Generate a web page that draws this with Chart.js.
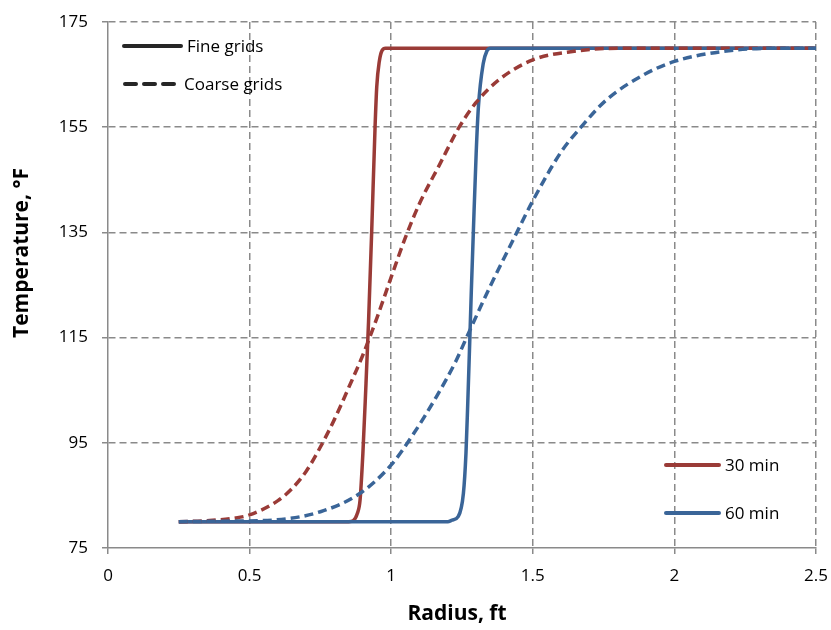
<!DOCTYPE html>
<html>
<head>
<meta charset="utf-8">
<title>Temperature vs radius</title>
<script src="https://cdn.jsdelivr.net/npm/chart.js@4.4.1/dist/chart.umd.min.js"></script>
<style>
  html, body { margin: 0; padding: 0; background: #fff; }
  #wrap { width: 831px; height: 630px; position: relative; }
</style>
</head>
<body>
<div id="wrap"><canvas id="tempChart"></canvas></div>
<script>
// Radius (ft) / temperature (°F) pairs
const fine30X = [0.25, 0.5, 0.75, 0.85, 0.866, 0.88, 0.89, 0.9, 0.91, 0.92, 0.931, 0.943, 0.949, 0.958, 0.968, 0.98, 1.0, 1.5, 2.0, 2.5];
const fine30Y = [80, 80, 80, 80, 80.2, 81.5, 84.1, 93, 105, 118, 135, 155, 162.7, 167.5, 169.6, 170, 170, 170, 170, 170];

const fine60X = [0.25, 0.5, 1.0, 1.2, 1.215, 1.237, 1.255, 1.264, 1.27, 1.276, 1.283, 1.29, 1.3, 1.308, 1.325, 1.338, 1.35, 1.4, 2.0, 2.5];
const fine60Y = [80, 80, 80, 80, 80.3, 81, 85.4, 93, 102, 112, 124, 135, 150, 158.9, 167.1, 169.5, 170, 170, 170, 170];

const coarse30X = [0.25, 0.35, 0.45, 0.5, 0.6, 0.65, 0.7, 0.75, 0.8, 0.85, 0.9, 0.95, 1.0, 1.05, 1.1, 1.17, 1.24, 1.3, 1.38, 1.5, 1.64, 1.8, 2.0, 2.25, 2.5];
const coarse30Y = [80, 80.2, 80.7, 81.3, 84.0, 86.3, 89.6, 94.2, 99.5, 105.5, 111.7, 118.8, 126.5, 134, 140.5, 147.8, 155, 159.7, 164, 167.8, 169.4, 170, 170, 170, 170];

const coarse60X = [0.25, 0.4, 0.58, 0.75, 0.89, 1.0, 1.08, 1.16, 1.23, 1.266, 1.35, 1.43, 1.5, 1.6, 1.67, 1.76, 1.9, 2.0, 2.17, 2.35, 2.5];
const coarse60Y = [80, 80.1, 80.3, 81.9, 85.4, 90.8, 96.8, 103.8, 110.7, 115, 124.8, 133.5, 141, 150.3, 155, 160.2, 165.2, 167.5, 169.4, 170, 170];

const xTicks = [0, 0.5, 1, 1.5, 2, 2.5];
const yTicks = [75, 95, 115, 135, 155, 175];

const RED = '#9a3b37';
const BLUE = '#3a6598';
const GRID = '#8a8a8a';
const FONT = "'Open Sans', 'Liberation Sans', sans-serif";

const pts = (xs, ys) => xs.map((x, i) => ({ x: x, y: ys[i] }));

function lineSet(label, xs, ys, color, dashed, order) {
    return {
        label: label,
        data: pts(xs, ys),
        borderColor: color,
        backgroundColor: color,
        borderWidth: 3.5,
        borderDash: dashed ? [9, 5] : [],
        borderCapStyle: 'butt',
        borderJoinStyle: 'round',
        pointRadius: 0,
        fill: false,
        cubicInterpolationMode: 'monotone',
        order: order
    };
}

// small line sample + text, used for both in-plot keys
function drawKey(ctx, x1, x2, y, color, dash, text) {
    ctx.save();
    ctx.strokeStyle = color;
    ctx.lineWidth = 4;
    ctx.lineCap = 'round';
    ctx.setLineDash(dash);
    ctx.beginPath();
    ctx.moveTo(x1, y);
    ctx.lineTo(x2, y);
    ctx.stroke();
    ctx.setLineDash([]);
    ctx.fillStyle = '#000';
    ctx.font = '17px ' + FONT;
    ctx.textBaseline = 'middle';
    ctx.textAlign = 'left';
    ctx.fillText(text, x2 + 6, y + 1);
    ctx.restore();
}

const overlay = {
    id: 'overlay',
    afterDraw(chart) {
        const ctx = chart.ctx;
        const a = chart.chartArea;

        drawKey(ctx, a.left + 16, a.left + 73, a.top + 24, '#262626', [], 'Fine grids');
        drawKey(ctx, a.left + 17, a.left + 70, a.top + 62, '#262626', [11, 8], 'Coarse grids');
        drawKey(ctx, a.right - 150, a.right - 97, a.bottom - 83, RED, [], '30 min');
        drawKey(ctx, a.right - 150, a.right - 97, a.bottom - 35, BLUE, [], '60 min');

        // axis titles
        ctx.save();
        ctx.fillStyle = '#000';
        ctx.font = 'bold 21px ' + FONT;
        ctx.textAlign = 'center';
        ctx.textBaseline = 'middle';
        ctx.fillText('Radius, ft', 457, 614);
        ctx.translate(22, 253);
        ctx.rotate(-Math.PI / 2);
        ctx.fillText('Temperature, °F', 0, 0);
        ctx.restore();
    }
};

new Chart(document.getElementById('tempChart'), {
    type: 'line',
    data: {
        datasets: [
            lineSet('30 min, coarse', coarse30X, coarse30Y, RED, true, 2),
            lineSet('60 min, coarse', coarse60X, coarse60Y, BLUE, true, 1),
            lineSet('30 min, fine', fine30X, fine30Y, RED, false, 4),
            lineSet('60 min, fine', fine60X, fine60Y, BLUE, false, 3)
        ]
    },
    options: {
        responsive: true,
        maintainAspectRatio: false,
        animation: false,
        layout: { padding: { top: 22, right: 15, left: 0, bottom: 0 } },
        plugins: {
            legend: { display: false },
            tooltip: { enabled: false }
        },
        scales: {
            x: {
                type: 'linear',
                min: 0,
                max: 2.5,
                afterBuildTicks: s => { s.ticks = xTicks.map(v => ({ value: v })); },
                afterFit: s => { s.height = 82; s.paddingLeft = 0; s.paddingRight = 0; },
                ticks: {
                    color: '#000',
                    font: { family: FONT, size: 17 },
                    padding: 12,
                    maxRotation: 0,
                    callback: v => String(v)
                },
                grid: {
                    color: c => (c.index === 0 ? 'rgba(0,0,0,0)' : GRID),
                    lineWidth: 1.5,
                    tickColor: GRID,
                    tickLength: 6,
                    tickBorderDash: []
                },
                border: { color: GRID, width: 1.5, dash: [7, 4] }
            },
            y: {
                min: 75,
                max: 175,
                afterBuildTicks: s => { s.ticks = yTicks.map(v => ({ value: v })); },
                afterFit: s => { s.width = 108; s.paddingTop = 0; s.paddingBottom = 0; },
                ticks: {
                    color: '#000',
                    font: { family: FONT, size: 17 },
                    padding: 14,
                    callback: v => String(v)
                },
                grid: {
                    color: c => (c.index === 0 ? 'rgba(0,0,0,0)' : GRID),
                    lineWidth: 1.5,
                    tickColor: GRID,
                    tickLength: 6,
                    tickBorderDash: []
                },
                border: { color: GRID, width: 1.5, dash: [7, 4] }
            }
        }
    },
    plugins: [overlay]
});
</script>
</body>
</html>
